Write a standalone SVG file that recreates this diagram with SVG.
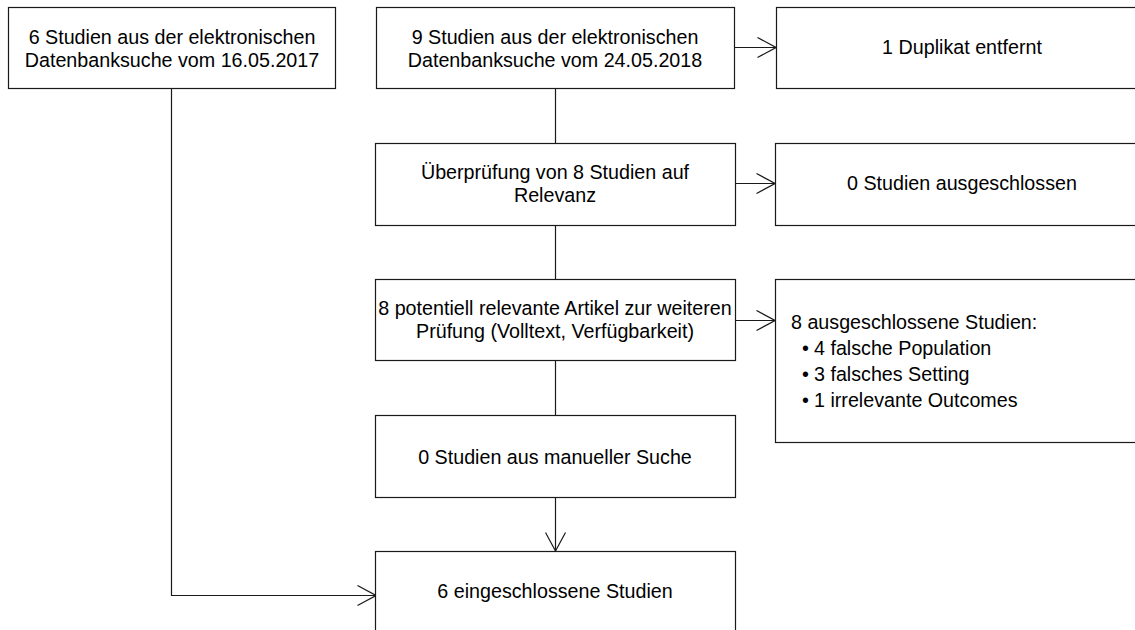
<svg xmlns="http://www.w3.org/2000/svg" width="1135" height="630" viewBox="0 0 1135 630">
<style>
.box{fill:#fff;stroke:#1a1a1a;stroke-width:1.2}
.t{font-family:"Liberation Sans",Arial,sans-serif;font-size:19.7px;fill:#000}
.c{text-anchor:middle}
.ln{fill:none;stroke:#1a1a1a;stroke-width:1.2}
</style>
<defs>
<marker id="ah" markerUnits="userSpaceOnUse" viewBox="0 0 20 22" refX="19.5" refY="11" markerWidth="20" markerHeight="22" orient="auto">
<path d="M1,1 L19.5,11 L1,21" fill="none" stroke="#1a1a1a" stroke-width="1.2"/>
</marker>
</defs>
<rect width="1135" height="630" fill="#fff"/>
<g id="connectors">
<path class="ln" d="M171.5,88 V595.5 H376" marker-end="url(#ah)"/>
<path class="ln" d="M555.5,88 V143"/>
<path class="ln" d="M555.5,225 V279"/>
<path class="ln" d="M555.5,360 V415"/>
<path class="ln" d="M555.5,497 V551" marker-end="url(#ah)"/>
<path class="ln" d="M734,47.5 H776" marker-end="url(#ah)"/>
<path class="ln" d="M735,183.5 H775" marker-end="url(#ah)"/>
<path class="ln" d="M735,320.5 H775" marker-end="url(#ah)"/>
</g>
<g id="n1">
<rect class="box" x="8.5" y="7.5" width="327" height="81"/>
<text class="t c" x="172" y="44">6 Studien aus der elektronischen</text>
<text class="t c" x="172" y="67">Datenbanksuche vom 16.05.2017</text>
</g>
<g id="n2">
<rect class="box" x="376.5" y="7.5" width="358" height="81"/>
<text class="t c" x="555" y="44">9 Studien aus der elektronischen</text>
<text class="t c" x="555" y="67">Datenbanksuche vom 24.05.2018</text>
</g>
<g id="n3">
<rect class="box" x="776.5" y="7.5" width="370" height="81"/>
<text class="t c" x="962" y="54">1 Duplikat entfernt</text>
</g>
<g id="n4">
<rect class="box" x="375.5" y="143.5" width="360" height="82"/>
<text class="t c" x="555" y="179">Überprüfung von 8 Studien auf</text>
<text class="t c" x="555" y="202">Relevanz</text>
</g>
<g id="n5">
<rect class="box" x="775.5" y="143.5" width="370" height="82"/>
<text class="t c" x="962" y="190">0 Studien ausgeschlossen</text>
</g>
<g id="n6">
<rect class="box" x="375.5" y="279.5" width="360" height="81"/>
<text class="t c" x="555" y="315">8 potentiell relevante Artikel zur weiteren</text>
<text class="t c" x="555" y="338">Prüfung (Volltext, Verfügbarkeit)</text>
</g>
<g id="n7">
<rect class="box" x="775.5" y="279.5" width="370" height="163"/>
<text class="t" x="791" y="329">8 ausgeschlossene Studien:</text>
<text class="t" x="802" y="355">•</text><text class="t" x="814" y="355">4 falsche Population</text>
<text class="t" x="802" y="381">•</text><text class="t" x="814" y="381">3 falsches Setting</text>
<text class="t" x="802" y="407">•</text><text class="t" x="814" y="407">1 irrelevante Outcomes</text>
</g>
<g id="n8">
<rect class="box" x="375.5" y="415.5" width="360" height="82"/>
<text class="t c" x="555" y="464">0 Studien aus manueller Suche</text>
</g>
<g id="n9">
<rect class="box" x="375.5" y="551.5" width="360" height="82"/>
<text class="t c" x="555" y="598">6 eingeschlossene Studien</text>
</g>
</svg>
